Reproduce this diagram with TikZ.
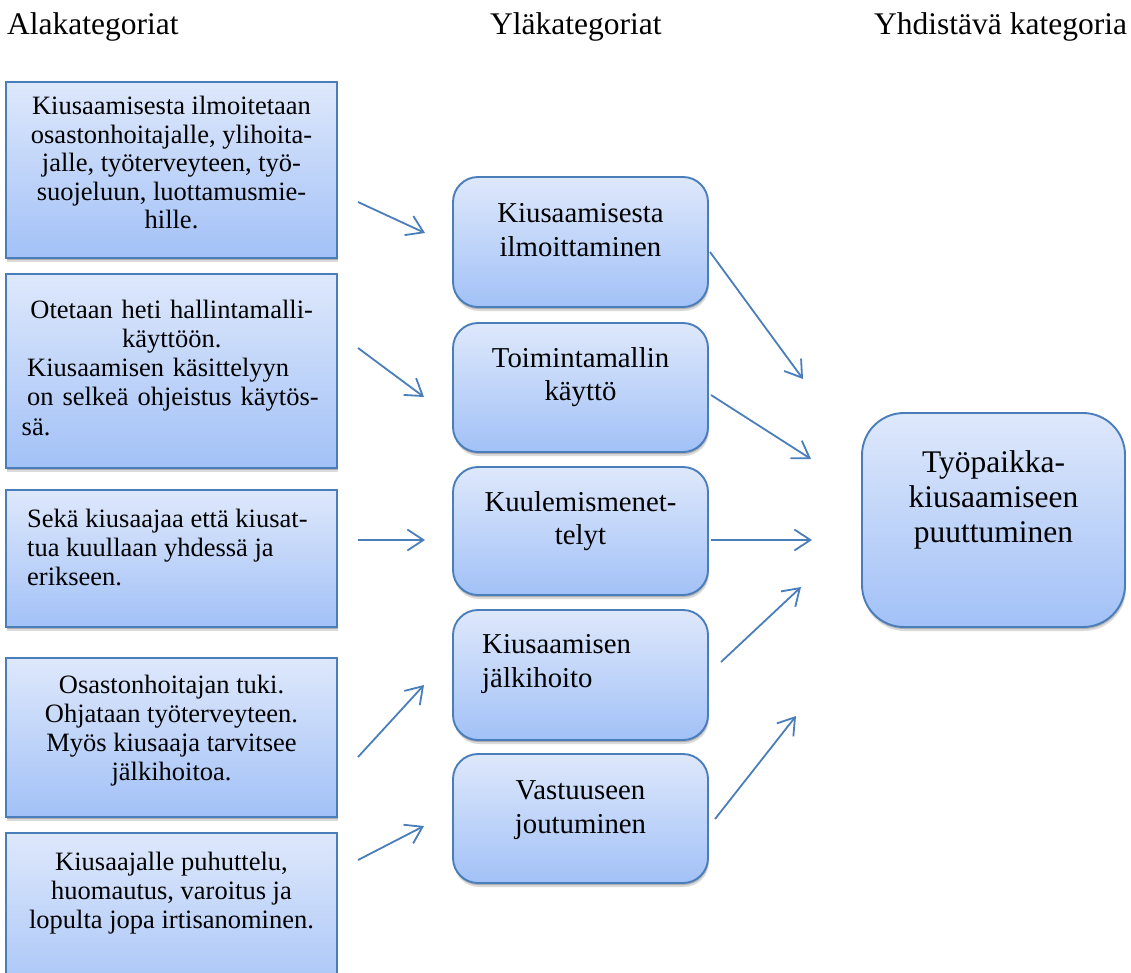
\documentclass[tikz,border=0pt]{standalone}
\usepackage{fontspec}
\setmainfont{Liberation Serif}
\usetikzlibrary{arrows.meta,shadows}
\definecolor{boxline}{RGB}{74,126,187}
\definecolor{boxtop}{RGB}{222,232,251}
\definecolor{boxbottom}{RGB}{162,193,247}
\begin{document}
\begin{tikzpicture}[x=1pt,y=-1pt,
  softshadow/.style={
    drop shadow={shadow xshift=0.5pt,shadow yshift=-2pt,opacity=0.20,fill=black},
    drop shadow={shadow xshift=1pt,shadow yshift=-4pt,opacity=0.14,fill=black}},
  cardbase/.style={draw=boxline,line width=1.9pt,top color=boxtop,
    bottom color=boxbottom,softshadow,inner sep=0pt},
  subbox/.style={cardbase,rectangle,minimum width=331pt},
  mainbox/.style={cardbase,rounded corners=25pt,minimum width=255pt},
  corebox/.style={cardbase,rounded corners=42pt,minimum width=263pt,minimum height=214pt},
  subtext/.style={font=\fontsize{26.5}{29.2}\selectfont,inner sep=0pt},
  maintext/.style={font=\fontsize{28.8}{33.5}\selectfont,inner sep=0pt},
  coretext/.style={font=\fontsize{31.5}{35}\selectfont,inner sep=0pt},
  headtext/.style={font=\fontsize{31.5}{36}\selectfont,inner sep=0pt},
  link/.style={draw=boxline,line width=1.8pt,
    -{Straight Barb[length=16pt,width=21pt]}}
]
\useasboundingbox (0,0) rectangle (1131,972);

% column headings
\node[headtext,anchor=base west] (H1) at (7,34) {Alakategoriat};
\node[headtext,anchor=base west] (H2) at (490,34) {Yläkategoriat};
\node[headtext,anchor=base west] (H3) at (874,34) {Yhdistävä kategoria};

% sub-category boxes
\node[subbox,minimum height=176pt] (L1) at (171.5,170) {};
\node[subbox,minimum height=194pt] (L2) at (171.5,371) {};
\node[subbox,minimum height=137pt] (L3) at (171.5,558.5) {};
\node[subbox,minimum height=159pt] (L4) at (171.5,737.5) {};
\node[subbox,minimum height=180pt] (L5) at (171.5,923) {};

\node[subtext,font=\fontsize{26.5}{28.6}\selectfont,anchor=north,align=center] (L1t) at (171.5,96)
  {Kiusaamisesta ilmoitetaan\\osastonhoitajalle, ylihoita-\\jalle, työterveyteen, työ-\\suojeluun, luottamusmie-\\hille.};
\node[subtext,anchor=north west,text width=300pt] (L2t) at (21.5,299.7)
  {\parindent=0pt{\centering Otetaan heti hallintamalli-\\käyttöön.\par}%
   \raggedright\leftskip=5.5pt Kiusaamisen käsittelyyn\\on selkeä ohjeistus käytös-\\sä.};
\node[subtext,anchor=north west,align=left] (L3t) at (27,508.7)
  {Sekä kiusaajaa että kiusat-\\tua kuullaan yhdessä ja\\erikseen.};
\node[subtext,anchor=north,align=center] (L4t) at (171.5,674.7)
  {Osastonhoitajan tuki.\\Ohjataan työterveyteen.\\Myös kiusaaja tarvitsee\\jälkihoitoa.};
\node[subtext,anchor=north,align=center] (L5t) at (171.5,851.7)
  {Kiusaajalle puhuttelu,\\huomautus, varoitus ja\\lopulta jopa irtisanominen.};

% main-category boxes
\node[mainbox,minimum height=130pt] (M1) at (580.5,242) {};
\node[mainbox,minimum height=129pt] (M2) at (580.5,387.5) {};
\node[mainbox,minimum height=128pt] (M3) at (580.5,531) {};
\node[mainbox,minimum height=130pt] (M4) at (580.5,675) {};
\node[mainbox,minimum height=129pt] (M5) at (580.5,818.5) {};

\node[maintext,anchor=north,align=center] (M1t) at (580.5,203.5)
  {Kiusaamisesta\\ilmoittaminen};
\node[maintext,anchor=north,align=center] (M2t) at (580.5,347.1)
  {Toimintamallin\\käyttö};
\node[maintext,anchor=north,align=center] (M3t) at (580.5,491)
  {Kuulemismenet-\\telyt};
\node[maintext,anchor=north west,align=left] (M4t) at (482,634.5)
  {Kiusaamisen\\jälkihoito};
\node[maintext,anchor=north,align=center] (M5t) at (580.5,780.5)
  {Vastuuseen\\joutuminen};

% combining category
\node[corebox] (R) at (993.5,520) {};
\node[coretext,anchor=north,align=center] (Rt) at (993.5,450.3)
  {Työpaikka-\\kiusaamiseen\\puuttuminen};

% arrow end points
\coordinate (a1) at (358,202);  \coordinate (b1) at (425,233);
\coordinate (a2) at (358,348);  \coordinate (b2) at (424,397);
\coordinate (a3) at (358,540);  \coordinate (b3) at (425,540);
\coordinate (a4) at (358,757);  \coordinate (b4) at (424,685);
\coordinate (a5) at (358,860);  \coordinate (b5) at (424,826);
\coordinate (c1) at (710,252);  \coordinate (d1) at (803,379);
\coordinate (c2) at (711,395);  \coordinate (d2) at (811,459);
\coordinate (c3) at (711,540);  \coordinate (d3) at (812,540);
\coordinate (c4) at (721,662);  \coordinate (d4) at (801,587);
\coordinate (c5) at (715,819);  \coordinate (d5) at (796,716);

\foreach \i in {1,...,5} {
  \draw[link] (a\i) -- (b\i);
  \draw[link] (c\i) -- (d\i);
}
\end{tikzpicture}
\end{document}
